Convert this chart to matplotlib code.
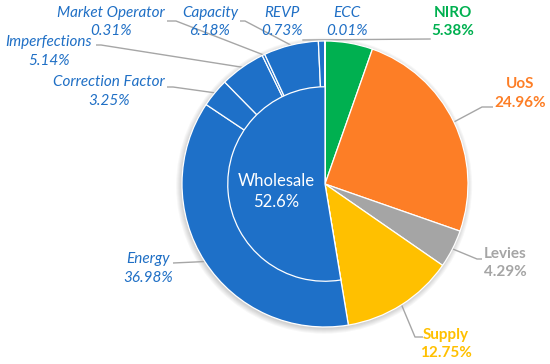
import matplotlib
matplotlib.use('Agg')
import matplotlib.pyplot as plt
from matplotlib.patches import Circle
import numpy as np

# ---- data ----
categories = ['NIRO', 'UoS', 'Levies', 'Supply', 'Energy', 'Correction Factor',
              'Imperfections', 'Market Operator', 'Capacity', 'REVP', 'ECC']
values = [5.38, 24.96, 4.29, 12.75, 36.98, 3.25, 5.14, 0.31, 6.18, 0.73, 0.01]
pct_labels = ['5.38%', '24.96%', '4.29%', '12.75%', '36.98%', '3.25%',
              '5.14%', '0.31%', '6.18%', '0.73%', '0.01%']
inner_categories = ['NIRO', 'UoS', 'Levies', 'Supply', 'Wholesale']
inner_values = [5.38, 24.96, 4.29, 12.75, 52.6]
wholesale_label = 'Wholesale\n52.6%'

# ---- style ----
BLUE = '#1E70C8'
GREEN = '#00B050'
ORANGE = '#FD7E26'
GRAY = '#A5A5A5'
YELLOW = '#FFC000'
colors = [GREEN, ORANGE, GRAY, YELLOW] + [BLUE] * 7
label_colors = [GREEN, ORANGE, GRAY, YELLOW] + ['#1F6FC5'] * 7
bold = [True, True, True, True] + [False] * 7

W, H = 550, 364
CX, CY, R = 325, 184, 143  # pixel centre/radius of the pie


def P(x, y):
    return ((x - CX) / R, (CY - y) / R)


fig = plt.figure(figsize=(W / 100, H / 100), dpi=100)
ax = fig.add_axes([0, 0, 1, 1])

# soft shadow
for i in range(6):
    ax.add_patch(Circle((-0.006, -0.012), 1.0 + 0.007 * i, color='black',
                        alpha=0.03, lw=0, zorder=0))

wedges, _ = ax.pie(values, colors=colors, startangle=90, counterclock=False,
                   radius=1.0,
                   wedgeprops=dict(edgecolor='white', linewidth=0.9))
for w in wedges:
    w.set_zorder(2)

inner, _ = ax.pie(inner_values, colors=[BLUE] * 5, startangle=90,
                  counterclock=False, radius=0.68,
                  wedgeprops=dict(edgecolor='white', linewidth=0.9))
for w, c in zip(inner, inner_categories):
    w.set_zorder(3)
    if c != 'Wholesale':
        w.set_visible(False)

# label centres (pixels) and leader starts
label_pos = {
    'NIRO': (453, 22), 'UoS': (520, 93.5), 'Levies': (505, 263),
    'Supply': (446, 344), 'Energy': (148, 268.5),
    'Correction Factor': (109, 91.5), 'Imperfections': (49, 51.5),
    'Market Operator': (111, 22), 'Capacity': (210, 22),
    'REVP': (282, 22), 'ECC': (347, 22),
}
leader_start = {
    'UoS': [(493, 107), (482, 107)],
    'Levies': [(482, 259), (477, 259)],
    'Supply': [(423, 337), (415, 337)],
    'Energy': [(173, 263), (195, 262)],
    'Correction Factor': [(167, 87), (173, 87)],
    'Imperfections': [(96, 45), (101, 45)],
    'Market Operator': [(167, 21), (176, 21)],
    'Capacity': [(240, 21), (245, 21)],
}

for w, cat, pct, col, b in zip(wedges, categories, pct_labels, label_colors, bold):
    x, y = P(*label_pos[cat])
    if b:
        ax.text(x, y, f'{cat}\n{pct}', ha='center', va='center', color=col,
                fontsize=11, fontweight='bold', family='Lato',
                linespacing=1.45, zorder=5)
    else:
        ax.text(x, y, f'{cat}\n{pct}', ha='center', va='center', color=col,
                fontsize=11, fontstyle='italic', family='Lato',
                linespacing=1.45, zorder=5)
    if cat in leader_start:
        mid = np.deg2rad((w.theta1 + w.theta2) / 2)
        pts = [P(*p) for p in leader_start[cat]] + [(np.cos(mid), np.sin(mid))]
        xs, ys = zip(*pts)
        ax.plot(xs, ys, color='#A6A6A6', lw=1.0, zorder=1,
                solid_capstyle='butt')

# NIRO / ECC long leader along the top
xs, ys = zip(P(430, 39), P(303, 40))
ax.plot(xs, ys, color='#A6A6A6', lw=1.0, zorder=1)

x, y = P(276, 191.5)
ax.text(x, y, wholesale_label, ha='center', va='center', color='white',
        fontsize=12, family='Lato', linespacing=1.45, zorder=6)

x0, _ = P(0, 0)
x1, _ = P(W, 0)
_, y0 = P(0, H)
_, y1 = P(0, 0)
ax.set_xlim(x0, x1)
ax.set_ylim(y0, y1)
ax.set_aspect('auto')
ax.axis('off')

fig.savefig('out.png', dpi=100, facecolor='white')
